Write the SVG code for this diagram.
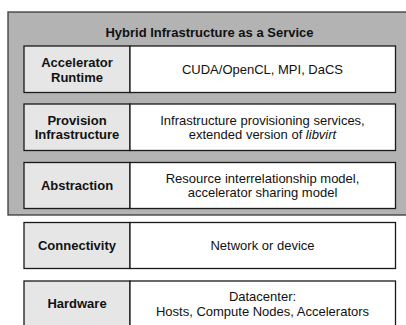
<svg xmlns="http://www.w3.org/2000/svg" width="406" height="325" viewBox="0 0 406 325">
  <style>
    .frame { fill: #b3b3b3; stroke: #3a3a3a; stroke-width: 1.3; }
    .label { fill: #e6e6e6; stroke: #1a1a1a; stroke-width: 1.3; }
    .desc { fill: #ffffff; stroke: #1a1a1a; stroke-width: 1.3; }
    text { font-family: "Liberation Sans", Arial, sans-serif; font-size: 13px; fill: #111; text-anchor: middle; }
    .b { font-weight: bold; }
  </style>
  <rect width="406" height="325" fill="#ffffff"/>

  <!-- Outer service frame -->
  <g id="haas">
    <rect class="frame" x="8" y="12" width="404" height="203"/>
    <text class="b" x="209.5" y="37">Hybrid Infrastructure as a Service</text>
  </g>

  <g id="connectors"></g>

  <!-- Accelerator runtime layer -->
  <g id="runtime">
    <rect class="label" x="24" y="46" width="106" height="46.5"/>
    <rect class="desc" x="130" y="46" width="265.5" height="46.5"/>
    <text class="b" x="77" y="67">Accelerator</text>
    <text class="b" x="77" y="81.5">Runtime</text>
    <text x="262.5" y="73.5">CUDA/OpenCL, MPI, DaCS</text>
  </g>

  <!-- Provisioning layer -->
  <g id="provision">
    <rect class="label" x="24" y="104" width="106" height="46.5"/>
    <rect class="desc" x="130" y="104" width="265.5" height="46.5"/>
    <text class="b" x="77" y="124.5">Provision</text>
    <text class="b" x="77" y="139">Infrastructure</text>
    <text x="262.5" y="124.5">Infrastructure provisioning services,</text>
    <text x="262.5" y="139">extended version of <tspan font-style="italic">libvirt</tspan></text>
  </g>

  <!-- Abstraction layer -->
  <g id="abstraction">
    <rect class="label" x="24" y="162.5" width="106" height="46"/>
    <rect class="desc" x="130" y="162.5" width="265.5" height="46"/>
    <text class="b" x="77" y="190">Abstraction</text>
    <text x="262.5" y="182.5">Resource interrelationship model,</text>
    <text x="262.5" y="197">accelerator sharing model</text>
  </g>

  <!-- Connectivity layer -->
  <g id="connectivity">
    <rect class="label" x="24" y="222.5" width="106" height="46"/>
    <rect class="desc" x="130" y="222.5" width="265.5" height="46"/>
    <text class="b" x="77" y="250">Connectivity</text>
    <text x="262.5" y="250">Network or device</text>
  </g>

  <!-- Hardware layer -->
  <g id="hardware">
    <rect class="label" x="24" y="281" width="106" height="46"/>
    <rect class="desc" x="130" y="281" width="265.5" height="46"/>
    <text class="b" x="77" y="307.5">Hardware</text>
    <text x="262.5" y="301">Datacenter:</text>
    <text x="262.5" y="315.5">Hosts, Compute Nodes, Accelerators</text>
  </g>
</svg>
